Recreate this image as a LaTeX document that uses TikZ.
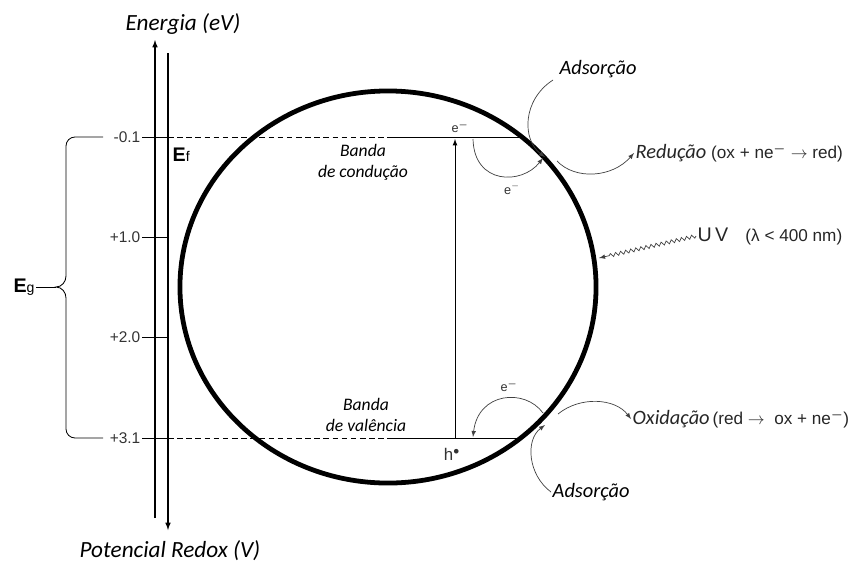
\documentclass[tikz,border=0pt]{standalone}
\usepackage{amsmath,amssymb}
\usepackage{fontspec}
\setmainfont{Liberation Sans}
\newfontfamily\calfont{Carlito}
\usetikzlibrary{decorations.pathmorphing}

\begin{document}
\begin{tikzpicture}[x=0.025cm, y=-0.025cm,
  axlbl/.style={font=\calfont\itshape\fontsize{16.5}{19}\selectfont},
  adslbl/.style={font=\calfont\itshape\fontsize{14.5}{17}\selectfont, inner sep=1pt},
  bandlbl/.style={font=\calfont\itshape\fontsize{12.5}{15}\selectfont, align=center, inner sep=1pt},
  lvl/.style={font=\fontsize{11}{13}\selectfont, inner sep=1pt, text=black!80},
  elec/.style={font=\fontsize{9}{11}\selectfont, inner sep=1pt, text=black!80},
  conn/.style={draw=black!75, line width=0.5pt},
  rxn/.style={font=\fontsize{12.2}{14}\selectfont, anchor=west, inner sep=1pt, text=black!85}]
\useasboundingbox (0,0) rectangle (852,567);

% axes
\coordinate (enB) at (155,518);
\coordinate (enT) at (155,40);
\coordinate (rdT) at (168,53);
\coordinate (rdB) at (168,530);
\draw[line width=0.8pt, -latex] (enB) -- (enT);
\draw[line width=0.8pt, -latex] (rdT) -- (rdB);
\node[axlbl] (energia) at (183,24) {Energia (eV)};
\node[axlbl] (redox) at (170,551) {Potencial Redox (V)};

% levels
\foreach \y/\v/\n in {137/-0.1/l1, 237/+1.0/l2, 337/+2.0/l3, 438/+3.1/l4} {
  \node[lvl, anchor=east] (\n) at (142,\y) {\v};
  \draw[line width=0.6pt] (\n.east) -- (168,\y);
}
\node[font=\bfseries\fontsize{14}{16}\selectfont, anchor=west, inner sep=1pt] (ef) at (171,155) {E{\mdseries\fontsize{10}{12}\selectfont f}};

% band edges
\coordinate (cbL) at (168,137);
\coordinate (cbM) at (393,137);
\coordinate (cbR) at (519,137);
\coordinate (vbL) at (168,438);
\coordinate (vbM) at (393,438);
\coordinate (vbR) at (519,438);
\draw[line width=0.6pt, dash pattern=on 4pt off 2.5pt] (cbL) -- (cbM);
\draw[line width=0.6pt] (cbM) -- (cbR);
\draw[line width=0.6pt, dash pattern=on 4pt off 2.5pt] (vbL) -- (vbM);
\draw[line width=0.6pt] (vbM) -- (vbR);

% particle
\draw[line width=3.4pt] (388,287) ellipse [x radius=5.2cm, y radius=4.9cm];

\node[bandlbl] (cb) at (363,162) {Banda\\ de condução};
\node[bandlbl] (vb) at (366,415) {Banda\\ de valência};

% band gap
\draw[line width=0.6pt] (103,137) -- (75,137) to[out=180,in=90] (66,146) -- (66,276)
  to[out=-90,in=0] (56,287) to[out=0,in=90] (66,298) -- (66,429)
  to[out=-90,in=180] (75,438) -- (103,438);
\node[font=\bfseries\fontsize{14}{16}\selectfont, inner sep=1pt] (eg) at (24,287) {E{\mdseries\fontsize{10}{12}\selectfont g}};
\draw[line width=0.6pt] (eg.east) -- (56,287);

% excitation
\coordinate (exB) at (455,438);
\coordinate (exT) at (455,139);
\draw[line width=0.6pt, -latex] (exB) -- (exT);
\node[elec] (e1) at (460,127) {e$^{\boldsymbol{-}}$};
\node[elec] (e2) at (512,189) {e$^{-}$};
\node[elec] (e3) at (509,386) {e$^{\boldsymbol{-}}$};
\node[font=\fontsize{12}{14}\selectfont, text=black!80] (hole) at (452,454) {h$^{\bullet}$};

% electron transfer
\coordinate (c1) at (473,139);
\coordinate (c2) at (543,158);
\draw[conn, -latex] (c1) .. controls (474,185) and (522,185) .. (c2);
\coordinate (v1) at (543,413);
\coordinate (v2) at (473,437);
\draw[conn, -latex] (v1) .. controls (525,388) and (478,392) .. (v2);

% adsorption and reactions
\node[adslbl] (ads1) at (598,69) {Adsorção};
\draw[conn, -latex] (553,80) .. controls (522,100) and (522,140) .. (545,157);
\node[rxn] (red) at (634,153) {{\calfont\itshape\fontsize{14.5}{17}\selectfont Redução} (ox + ne$^{\boldsymbol{-}}$ $\rightarrow$ red)};
\draw[conn, -latex] (557,161) .. controls (575,180) and (612,178) .. (red.west);

\node[rxn] (oxi) at (631,419) {{\calfont\itshape\fontsize{14.5}{17}\selectfont Oxidação}\,(red $\rightarrow$ ~ox + ne$^{\boldsymbol{-}}$)};
\draw[conn, -latex] (558,414) .. controls (580,396) and (615,398) .. (oxi.west);
\node[adslbl, anchor=west] (ads2) at (551,492) {Adsorção};
\draw[conn, -latex] (ads2.west) .. controls (528,475) and (525,440) .. (545,425);

% light
\node[rxn] (uv) at (696,236) {{\fontsize{14}{16}\selectfont U\,V}\quad (λ < 400 nm)};
\draw[conn, -latex, decorate, decoration={snake, amplitude=0.45mm, segment length=1.3mm, post length=2mm}] (uv.west) -- (599,258);
\end{tikzpicture}
\end{document}
